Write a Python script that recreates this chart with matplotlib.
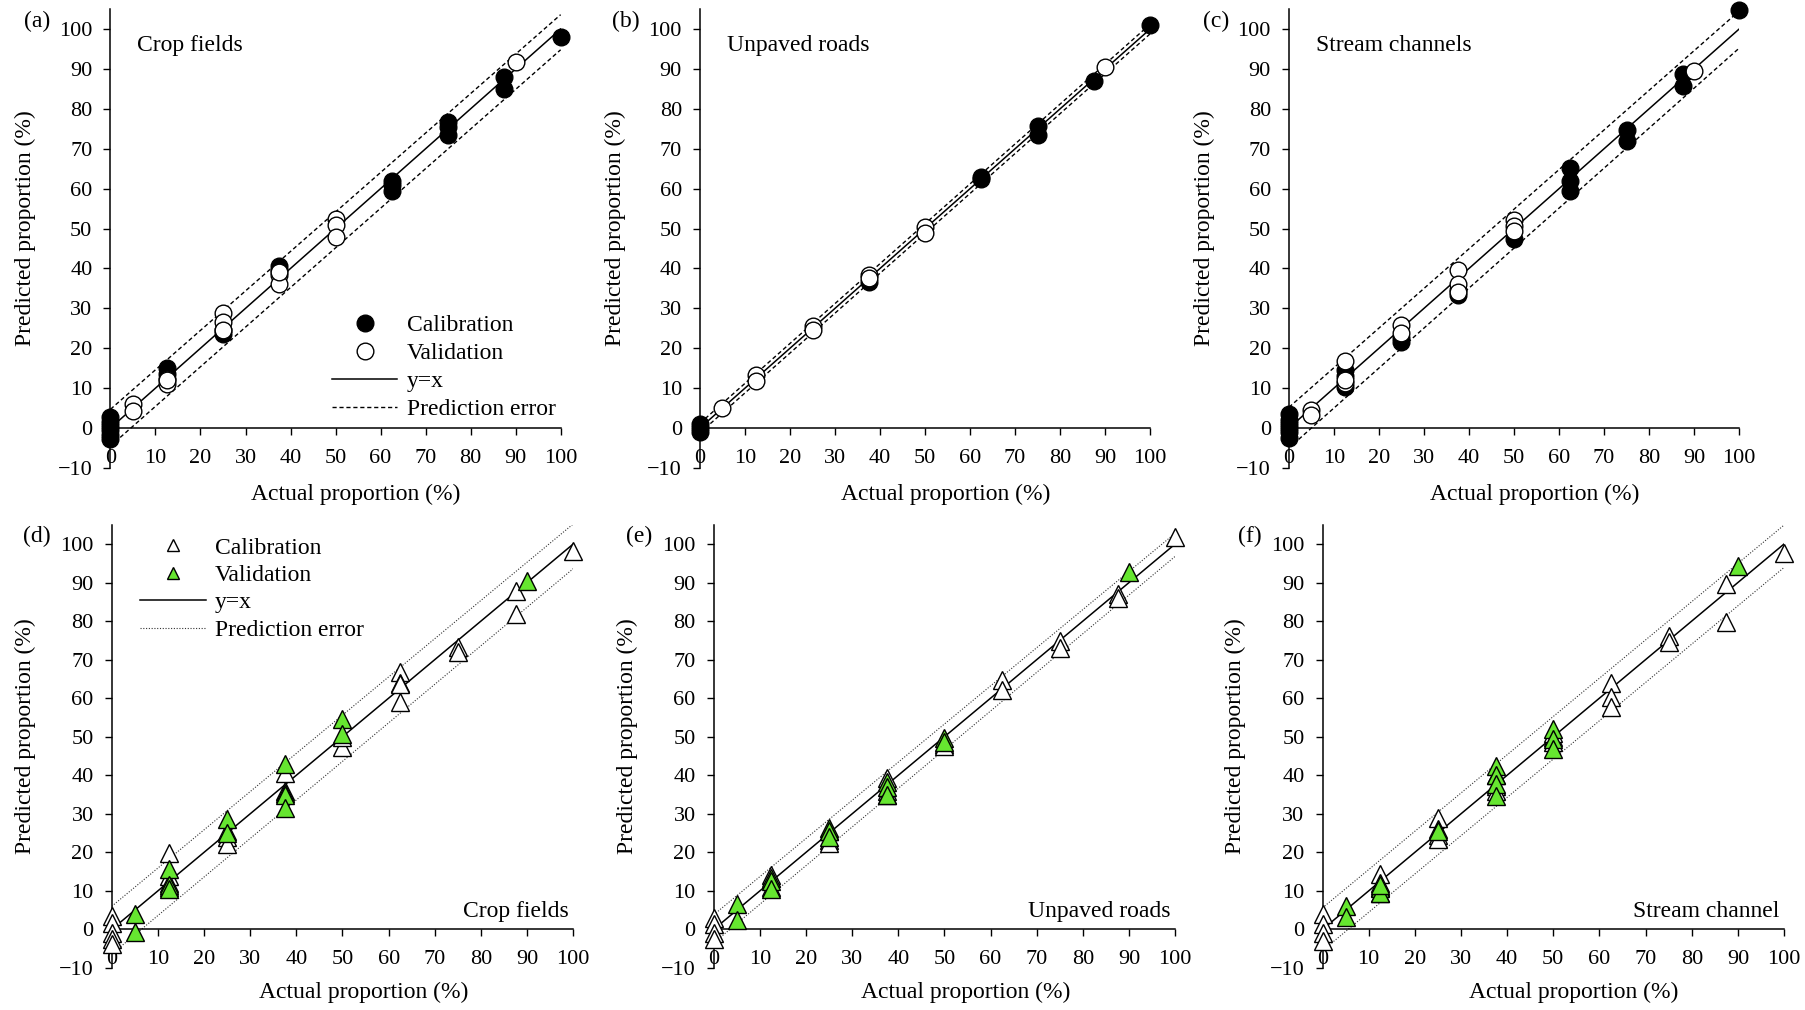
# Import libraries
import matplotlib
matplotlib.use('Agg')
import matplotlib.pyplot as plt
from matplotlib.lines import Line2D

plt.rcParams['font.family'] = 'serif'
plt.rcParams['font.serif'] = ['Liberation Serif', 'DejaVu Serif']

# Source classes, one per column
titles = ['Crop fields', 'Unpaved roads', 'Stream channels']
titles_bottom = ['Crop fields', 'Unpaved roads', 'Stream channel']
tags_top = ['(a)', '(b)', '(c)']
tags_bottom = ['(d)', '(e)', '(f)']

# Top row (a-c): calibration / validation, actual vs predicted (%)
cal_x_a = [0, 0, 0, 0, 0, 0, 12.5, 12.5, 25, 25, 37.5, 37.5, 62.5, 62.5, 62.5, 75, 75, 75, 87.5, 87.5, 100]
cal_y_a = [2.8, 1.5, 0.5, -0.5, -1.8, -2.8, 15.0, 13.5, 23.5, 24.5, 40.5, 39.5, 62.0, 61.0, 59.5, 76.8, 75.5, 73.5, 88.0, 85.0, 98.0]
val_x_a = [5, 5, 12.5, 12.5, 12.5, 25, 25, 25, 37.5, 37.5, 37.5, 50, 50, 50, 90]
val_y_a = [6.0, 4.3, 12.3, 11.0, 12.0, 28.8, 26.5, 24.5, 38.3, 36.2, 39.0, 52.5, 51.0, 48.0, 91.7]

cal_x_b = [0, 0, 0, 37.5, 62.5, 62.5, 75, 75, 87.5, 100]
cal_y_b = [1.0, 0.0, -1.0, 36.5, 62.3, 63.0, 75.6, 73.5, 87.1, 101.1]
val_x_b = [5, 12.5, 12.5, 25, 25, 37.5, 37.5, 50, 50, 90]
val_y_b = [4.9, 13.3, 11.8, 25.6, 24.5, 38.4, 37.5, 50.3, 49.0, 90.4]

cal_x_c = [0, 0, 0, 0, 0, 0, 12.5, 12.5, 12.5, 25, 25, 37.5, 37.5, 50, 62.5, 62.5, 62.5, 75, 75, 87.5, 87.5, 100]
cal_y_c = [3.5, 2.0, 1.0, 0.0, -1.0, -2.5, 14.5, 13.0, 10.2, 21.5, 22.5, 33.3, 34.5, 47.3, 65.2, 61.9, 59.4, 74.8, 71.9, 88.8, 85.8, 104.8]
val_x_c = [5, 5, 12.5, 12.5, 12.5, 25, 25, 37.5, 37.5, 37.5, 50, 50, 50, 90]
val_y_c = [4.6, 3.3, 16.8, 11.4, 12.0, 25.8, 23.8, 39.6, 36.0, 34.1, 52.1, 50.6, 49.4, 89.4]

# Bottom row (d-f)
cal_x_d = [0, 0, 0, 0, 0, 12.5, 12.5, 12.5, 12.5, 25, 25, 25, 37.5, 37.5, 50, 50, 62.5, 62.5, 62.5, 62.5, 75, 75, 87.5, 87.5, 100]
cal_y_d = [3.5, 1.7, -0.9, -2.6, -3.9, 19.7, 13.9, 12.0, 11.0, 25.5, 24.0, 22.1, 40.7, 36.0, 47.2, 50.0, 66.7, 64.0, 63.6, 58.9, 73.2, 71.9, 87.9, 81.8, 98.3]
val_x_d = [5, 5, 12.5, 12.5, 12.5, 25, 25, 37.5, 37.5, 37.5, 37.5, 50, 50, 90]
val_y_d = [4.1, -0.7, 15.8, 11.5, 10.4, 28.7, 25.1, 43.0, 35.5, 34.8, 31.6, 54.5, 50.6, 90.5]

cal_x_e = [0, 0, 0, 0, 12.5, 12.5, 25, 25, 25, 37.5, 37.5, 37.5, 50, 50, 62.5, 62.5, 75, 75, 87.5, 87.5, 100]
cal_y_e = [3.0, 1.3, -0.9, -2.4, 14.0, 11.0, 25.5, 23.3, 22.5, 39.3, 36.0, 35.0, 48.0, 47.5, 64.8, 62.2, 74.8, 73.0, 87.0, 86.0, 101.8]
val_x_e = [5, 5, 12.5, 12.5, 12.5, 25, 25, 25, 37.5, 37.5, 37.5, 50, 50, 90]
val_y_e = [6.5, 2.4, 13.4, 12.5, 10.4, 26.4, 25.5, 24.0, 38.2, 37.0, 35.0, 49.7, 48.5, 92.7]

cal_x_f = [0, 0, 0, 0, 12.5, 12.5, 12.5, 12.5, 25, 25, 25, 37.5, 37.5, 37.5, 50, 50, 50, 62.5, 62.5, 62.5, 75, 75, 87.5, 87.5, 100]
cal_y_f = [3.9, 1.3, -0.9, -3.0, 14.3, 12.0, 11.0, 9.5, 29.0, 24.5, 23.4, 37.2, 36.0, 40.0, 49.8, 48.5, 51.0, 64.0, 60.2, 57.6, 76.2, 74.5, 89.6, 79.7, 97.7]
val_x_f = [5, 5, 12.5, 12.5, 12.5, 25, 25, 37.5, 37.5, 37.5, 37.5, 50, 50, 50, 90]
val_y_f = [6.2, 3.3, 10.8, 9.5, 11.5, 26.0, 25.5, 42.4, 40.0, 37.7, 34.6, 51.9, 49.5, 46.8, 94.4]

# 1:1 line and prediction error bounds (end points)
one_x = [0, 100]
one_y = [0, 100]
upper_x = [[0, 100], [0, 100], [0, 100], [0, 100], [0, 100], [0, 100]]
upper_y = [[4.7, 103.6], [1.2, 101.2], [5.2, 104.5], [6.0, 105.2], [3.8, 102.8], [5.6, 104.9]]
lower_x = [[1, 100], [0, 100], [1, 100], [1, 100], [1, 100], [1, 100]]
lower_y = [[-3.5, 94.8], [-1.2, 98.8], [-4.0, 95.2], [-5.4, 93.6], [-2.5, 96.8], [-4.5, 93.9]]

top_data = [(cal_x_a, cal_y_a, val_x_a, val_y_a),
            (cal_x_b, cal_y_b, val_x_b, val_y_b),
            (cal_x_c, cal_y_c, val_x_c, val_y_c)]
bottom_data = [(cal_x_d, cal_y_d, val_x_d, val_y_d),
               (cal_x_e, cal_y_e, val_x_e, val_y_e),
               (cal_x_f, cal_y_f, val_x_f, val_y_f)]

green = '#66e630'
tick_size = 16
text_size = 17


def style_axes(ax, tag):
    ax.set_xlim(0, 100)
    ax.set_ylim(-10, 105)
    ax.spines['top'].set_visible(False)
    ax.spines['right'].set_visible(False)
    ax.spines['bottom'].set_position(('data', 0))
    ax.spines['left'].set_linewidth(1.1)
    ax.spines['bottom'].set_linewidth(1.1)
    ax.set_xticks(range(0, 101, 10))
    ax.set_yticks(range(-10, 101, 10))
    ax.tick_params(direction='out', length=5, width=1, labelsize=tick_size)
    ax.tick_params(axis='x', pad=10)
    ax.tick_params(axis='y', pad=8)
    ax.set_xlabel('Actual proportion (%)', fontsize=text_size)
    ax.set_ylabel('Predicted proportion (%)', fontsize=text_size)
    ax.yaxis.set_label_coords(-0.165, 0.522)
    ax.text(-0.133, 0.974, tag, transform=ax.transAxes, ha='right', va='center', fontsize=text_size)


fig = plt.figure(figsize=(18.05, 10.10), dpi=100)

# Top row: circles, dashed prediction error
top_left = [0.0612, 0.3878, 0.7141]
for k in range(3):
    ax = fig.add_axes([top_left[k], 0.5367, 0.2494, 0.4543])
    style_axes(ax, tags_top[k])
    ax.xaxis.set_label_coords(0.545, -0.034)
    cx, cy, vx, vy = top_data[k]
    ax.plot(one_x, one_y, 'k-', lw=1.1, zorder=2)
    ax.plot(upper_x[k], upper_y[k], color='k', lw=1, ls=(0, (3, 2)), zorder=2)
    ax.plot(lower_x[k], lower_y[k], color='k', lw=1, ls=(0, (3, 2)), zorder=2)
    ax.plot(cx, cy, 'o', ms=12, mfc='k', mec='k', mew=1, ls='none', clip_on=False, zorder=3)
    ax.plot(vx, vy, 'o', ms=12, mfc='white', mec='k', mew=1, ls='none', clip_on=False, zorder=4)
    ax.text(6, 95.8, titles[k], ha='left', va='center', fontsize=text_size)
    if k == 0:
        handles = [Line2D([], [], marker='o', ms=12, mfc='k', mec='k', ls='none'),
                   Line2D([], [], marker='o', ms=12, mfc='white', mec='k', ls='none'),
                   Line2D([], [], color='k', lw=1.1),
                   Line2D([], [], color='k', lw=1, ls=(0, (3, 2)))]
        ax.legend(handles, ['Calibration', 'Validation', 'y=x', 'Prediction error'],
                  loc='upper left', bbox_to_anchor=(49.3, 28.4), bbox_transform=ax.transData,
                  frameon=False, fontsize=text_size, handlelength=2.75, handletextpad=0.4,
                  labelspacing=0.27, borderpad=0, borderaxespad=0)

# Bottom row: triangles, dotted prediction error
bottom_left = [0.0619, 0.3954, 0.7327]
for k in range(3):
    ax = fig.add_axes([bottom_left[k], 0.0416, 0.2557, 0.4389])
    style_axes(ax, tags_bottom[k])
    ax.xaxis.set_label_coords(0.545, -0.031)
    cx, cy, vx, vy = bottom_data[k]
    ax.plot(one_x, one_y, 'k-', lw=1.1, zorder=2)
    ax.plot(upper_x[k + 3], upper_y[k + 3], color='#333333', lw=0.8, ls=(0, (1, 1.5)), zorder=2)
    ax.plot(lower_x[k + 3], lower_y[k + 3], color='#333333', lw=0.8, ls=(0, (1, 1.5)), zorder=2)
    ax.plot(cx, cy, '^', ms=13, mfc='white', mec='k', mew=1, ls='none', clip_on=False, zorder=3)
    ax.plot(vx, vy, '^', ms=13, mfc=green, mec='k', mew=1, ls='none', clip_on=False, zorder=4)
    ax.text(99, 4.6, titles_bottom[k], ha='right', va='center', fontsize=text_size)
    if k == 0:
        handles = [Line2D([], [], marker='^', ms=8, mfc='white', mec='k', ls='none'),
                   Line2D([], [], marker='^', ms=8, mfc=green, mec='k', ls='none'),
                   Line2D([], [], color='k', lw=1.1),
                   Line2D([], [], color='#333333', lw=0.8, ls=(0, (1, 1.5)))]
        ax.legend(handles, ['Calibration', 'Validation', 'y=x', 'Prediction error'],
                  loc='upper left', bbox_to_anchor=(6.2, 101.8), bbox_transform=ax.transData,
                  frameon=False, fontsize=text_size, handlelength=2.8, handletextpad=0.35,
                  labelspacing=0.25, borderpad=0, borderaxespad=0)

plt.savefig('out.png', dpi=100)
